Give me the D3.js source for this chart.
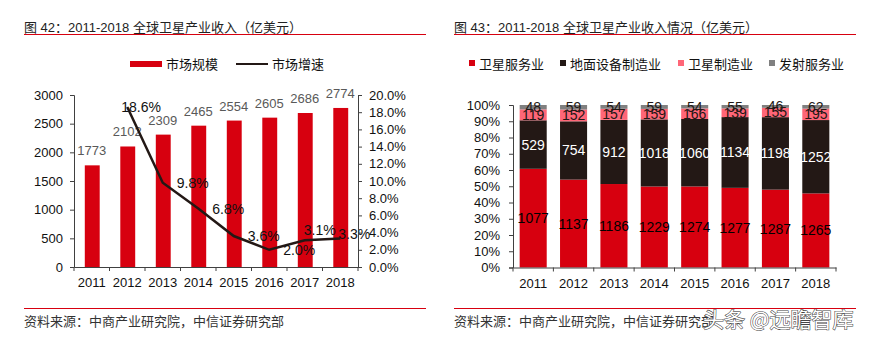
<!DOCTYPE html>
<html>
<head>
<meta charset="utf-8">
<script src="https://cdn.jsdelivr.net/npm/d3@7"></script>
<style>
  body { margin: 0; background: #fff; }
  text { font-family: "Liberation Sans", Arial, "Noto Sans CJK SC", sans-serif; }
  .cn { font-family: "Liberation Sans", Arial, "Noto Sans CJK SC", sans-serif; }
</style>
</head>
<body>
<svg id="chart" width="871" height="339"></svg>
<script>
// data
var years = ['2011','2012','2013','2014','2015','2016','2017','2018'];
var marketSize = [1773, 2102, 2309, 2465, 2554, 2605, 2686, 2774];
var marketGrowth = [null, 18.6, 9.8, 6.8, 3.6, 2.0, 3.1, 3.3];

var segKeys = ['卫星服务业','地面设备制造业','卫星制造业','发射服务业'];
var satService = [1077, 1137, 1186, 1229, 1274, 1277, 1287, 1265];
var groundEquip = [529, 754, 912, 1018, 1060, 1134, 1198, 1252];
var satManuf = [119, 152, 157, 159, 166, 139, 155, 195];
var launchService = [48, 59, 54, 59, 54, 55, 46, 62];

var sizeTicks = [0, 500, 1000, 1500, 2000, 2500, 3000];
var growthTicks = [0, 2, 4, 6, 8, 10, 12, 14, 16, 18, 20];
var pctTicks = [0, 0.1, 0.2, 0.3, 0.4, 0.5, 0.6, 0.7, 0.8, 0.9, 1];

var RED = '#d7000f', DARK = '#231815', PINK = '#ff6677', GRAY = '#808080';
var svg = d3.select('#chart');

// ---------- shared header / footer ----------
function frame(x0, x1, title){
	svg.append('text').attr('class','cn').attr('x', x0).attr('y', 32)
		.attr('font-size', 13).attr('fill', '#222').text(title);
	svg.append('line').attr('x1', x0).attr('x2', x1).attr('y1', 34.5).attr('y2', 34.5)
		.attr('stroke', RED).attr('stroke-width', 1);
	svg.append('line').attr('x1', x0).attr('x2', x1).attr('y1', 308.5).attr('y2', 308.5)
		.attr('stroke', RED).attr('stroke-width', 1);
	svg.append('text').attr('class','cn').attr('x', x0).attr('y', 326)
		.attr('font-size', 13).attr('fill', '#333').text('资料来源：中商产业研究院，中信证券研究部');
}
frame(24, 426, '图 42：2011-2018 全球卫星产业收入（亿美元）');
frame(454, 856, '图 43：2011-2018 全球卫星产业收入情况（亿美元）');

function styleAxis(g){
	g.selectAll('path,line').attr('stroke', '#404040');
	g.selectAll('text').attr('fill', '#111').attr('font-size', 13)
		.style('font-family', '"Liberation Sans", Arial, sans-serif');
}

function bottomAxis(x, y0){
	var g = svg.append('g').attr('transform', 'translate(0,' + y0 + ')')
		.call(d3.axisBottom(x).tickSize(0).tickPadding(11));
	styleAxis(g);
	var edges = years.map(function(d){ return x(d); }).concat([x.range()[1]]);
	g.selectAll('line.edge').data(edges).enter().append('line').attr('class','edge')
		.attr('x1', function(d){ return d; }).attr('x2', function(d){ return d; })
		.attr('y1', 0).attr('y2', 4).attr('stroke', '#404040');
	return g;
}

// ---------- left chart ----------
var xL = d3.scaleBand().domain(years).range([74, 358]);
var yL = d3.scaleLinear().domain([0, 3000]).range([267, 95]);
var yG = d3.scaleLinear().domain([0, 20]).range([267, 95]);
var barW = xL.bandwidth() * 0.42;

var gl = svg.append('g');
gl.selectAll('rect.bar').data(marketSize).enter().append('rect').attr('class','bar')
	.attr('x', function(d, i){ return xL(years[i]) + xL.bandwidth()/2 - barW/2 + 0.5; })
	.attr('y', function(d){ return yL(d); })
	.attr('width', barW)
	.attr('height', function(d){ return yL(0) - yL(d); })
	.attr('fill', RED);

gl.selectAll('text.val').data(marketSize).enter().append('text').attr('class','val')
	.attr('x', function(d, i){ return xL(years[i]) + xL.bandwidth()/2; })
	.attr('y', function(d){ return yL(d) - 10; })
	.attr('text-anchor', 'middle').attr('font-size', 13).attr('fill', '#595959')
	.text(function(d){ return d; });

var ax = svg.append('g').attr('transform', 'translate(74,0)')
	.call(d3.axisLeft(yL).tickValues(sizeTicks).tickSize(4).tickPadding(7).tickFormat(d3.format('d')));
styleAxis(ax);
var ay = svg.append('g').attr('transform', 'translate(358,0)')
	.call(d3.axisRight(yG).tickValues(growthTicks).tickSize(4).tickPadding(7)
		.tickFormat(function(d){ return d3.format('.1f')(d) + '%'; }));
styleAxis(ay);
bottomAxis(xL, 267);

var growthPts = years.map(function(y, i){ return {year: y, v: marketGrowth[i]}; })
	.filter(function(d){ return d.v !== null; });
var line = d3.line()
	.x(function(d){ return xL(d.year) + xL.bandwidth()/2; })
	.y(function(d){ return yG(d.v); });
gl.append('path').datum(growthPts).attr('d', line)
	.attr('fill', 'none').attr('stroke', DARK).attr('stroke-width', 2.5);

// label placement like the original (right of point, two above)
var lblShift = {'2012': [-6, 0], '2017': [-1, -10], '2018': [-2, -5]};
gl.selectAll('text.gr').data(growthPts).enter().append('text').attr('class','gr')
	.attr('x', function(d){ return xL(d.year) + xL.bandwidth()/2 + (lblShift[d.year] ? lblShift[d.year][0] : 14); })
	.attr('y', function(d){ return yG(d.v) + (lblShift[d.year] ? lblShift[d.year][1] : 0) + 5; })
	.attr('font-size', 14).attr('fill', '#111')
	.text(function(d){ return d3.format('.1f')(d.v) + '%'; });

// legend left
svg.append('rect').attr('x', 130).attr('y', 61).attr('width', 32).attr('height', 6).attr('fill', RED);
svg.append('text').attr('class','cn').attr('x', 166).attr('y', 68.5).attr('font-size', 13).attr('fill', '#111').text('市场规模');
svg.append('line').attr('x1', 236).attr('x2', 268).attr('y1', 64).attr('y2', 64).attr('stroke', DARK).attr('stroke-width', 2);
svg.append('text').attr('class','cn').attr('x', 272).attr('y', 68.5).attr('font-size', 13).attr('fill', '#111').text('市场增速');

// ---------- right chart ----------
var xR = d3.scaleBand().domain(years).range([513, 836]);
var yP = d3.scaleLinear().domain([0, 1]).range([267.5, 105]);
var segColors = [RED, DARK, PINK, GRAY];
var segText = ['#000', '#fff', '#231815', '#231815'];
var series = [satService, groundEquip, satManuf, launchService];
var rows = years.map(function(y, i){
	var r = {year: y};
	segKeys.forEach(function(k, j){ r[k] = series[j][i]; });
	return r;
});
var stacked = d3.stack().keys(segKeys).offset(d3.stackOffsetExpand)(rows);
var bw = xR.bandwidth() * 0.67;

var gr = svg.append('g');
stacked.forEach(function(layer, j){
	var lg = gr.append('g');
	lg.selectAll('rect').data(layer).enter().append('rect')
		.attr('x', function(d){ return xR(d.data.year) + xR.bandwidth()/2 - bw/2; })
		.attr('y', function(d){ return yP(d[1]); })
		.attr('width', bw)
		.attr('height', function(d){ return yP(d[0]) - yP(d[1]); })
		.attr('fill', segColors[j]);
});
stacked.forEach(function(layer, j){
	gr.append('g').selectAll('text').data(layer).enter().append('text')
		.attr('x', function(d){ return xR(d.data.year) + xR.bandwidth()/2; })
		.attr('y', function(d){ return (yP(d[0]) + yP(d[1]))/2 + 5; })
		.attr('text-anchor', 'middle').attr('font-size', 14).attr('fill', segText[j])
		.text(function(d){ return d.data[layer.key]; });
});

var ap = svg.append('g').attr('transform', 'translate(513,0)')
	.call(d3.axisLeft(yP).tickValues(pctTicks).tickSize(4).tickPadding(9).tickFormat(d3.format('.0%')));
styleAxis(ap);
bottomAxis(xR, 267.5);

// legend right
var legX = [469, 560, 678, 769];
segKeys.forEach(function(k, j){
	svg.append('rect').attr('x', legX[j]).attr('y', 60).attr('width', 6).attr('height', 6).attr('fill', segColors[j]);
	svg.append('text').attr('class','cn').attr('x', legX[j] + 10).attr('y', 68.5)
		.attr('font-size', 13).attr('fill', '#111').text(k);
});

// watermark
svg.append('text').attr('x', 703).attr('y', 327)
	.style('font-family', '"Noto Sans CJK SC", sans-serif')
	.attr('font-size', 21).attr('fill', '#fff').attr('stroke', '#444').attr('stroke-width', 1.1)
	.attr('paint-order', 'stroke').text('头条 @远瞻智库');
</script>
</body>
</html>
